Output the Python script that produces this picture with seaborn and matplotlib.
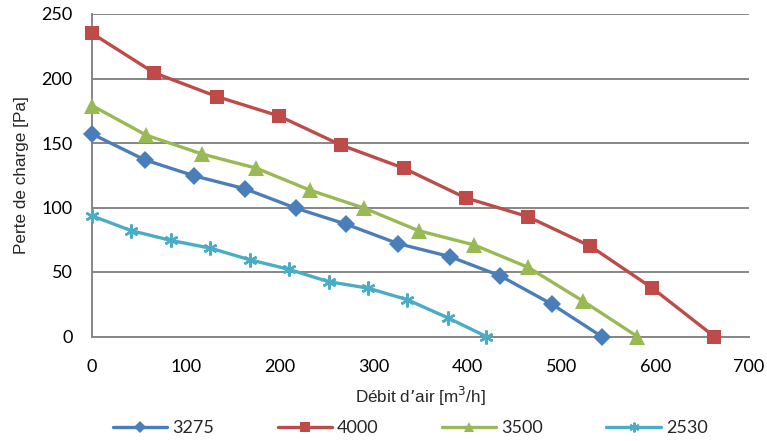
import matplotlib
matplotlib.use("Agg")
import matplotlib.pyplot as plt
import seaborn as sns
import pandas as pd
from matplotlib.lines import Line2D

# Data
x_3275 = [0, 56, 109, 163, 217, 271, 326, 381, 435, 490, 543]
y_3275 = [157, 137, 124.5, 114.5, 99.5, 87, 72, 62, 47, 25, 0]
x_4000 = [0, 66, 133, 199, 265, 332, 398, 464, 531, 597, 663]
y_4000 = [235, 204.5, 186, 171, 148.5, 130.5, 107.5, 93, 70, 37.5, 0]
x_3500 = [0, 58, 117, 175, 232, 290, 348, 407, 465, 523, 581]
y_3500 = [179, 156, 141.5, 130.5, 113.5, 99.5, 82, 71, 53.5, 27.5, 0]
x_2530 = [0, 42, 84, 126, 168, 210, 252, 294, 336, 379, 420]
y_2530 = [93.5, 82, 74.5, 68.5, 59.5, 52, 42.5, 37.5, 28.5, 14.5, 0]
series_names = ["3275", "4000", "3500", "2530"]
x_ticks = [0, 100, 200, 300, 400, 500, 600, 700]
y_ticks = [0, 50, 100, 150, 200, 250]

sns.set_theme(style="white")
tick_font = ["Lato", "DejaVu Sans"]
label_font = ["Liberation Sans", "DejaVu Sans"]

fig = plt.figure(figsize=(7.67, 4.41), dpi=100)
ax = fig.add_axes([0.12, 1 - 336.5 / 441, (749 - 92) / 767, (336.5 - 14) / 441])

styles = [
    (x_3275, y_3275, "#4A7EBB", "D", 9),
    (x_4000, y_4000, "#BE4B48", "s", 9.5),
    (x_3500, y_3500, "#98B954", "^", 11),
    (x_2530, y_2530, "#4BACC6", (6, 2, 0), 10),
]
handles = []
for name, (xs, ys, col, mk, ms) in zip(series_names, styles):
    df = pd.DataFrame({"x": xs, "y": ys})
    kw = dict(marker=mk, markersize=ms, markeredgewidth=0 if mk != (6, 2, 0) else 1.8,
              markeredgecolor=col, markerfacecolor=col)
    sns.lineplot(data=df, x="x", y="y", ax=ax, color=col, linewidth=2.4,
                 sort=False, estimator=None, clip_on=False, zorder=3, **kw)
    handles.append(Line2D([0], [0], color=col, linewidth=2.4, marker=mk,
                          markersize=ms * 0.7, markerfacecolor=col, markeredgecolor=col,
                          markeredgewidth=0 if mk != (6, 2, 0) else 1.5))

ax.set_xlim(0, 700)
ax.set_ylim(0, 250)
ax.set_xticks(x_ticks)
ax.set_yticks(y_ticks)
ax.yaxis.grid(True, color="#868686", linewidth=1.4)
ax.xaxis.grid(False)
for s in ["top", "right"]:
    ax.spines[s].set_visible(False)
for s in ["left", "bottom"]:
    ax.spines[s].set_color("#868686")
    ax.spines[s].set_linewidth(1.4)
ax.tick_params(axis="both", length=0, labelsize=13, labelcolor="black")
ax.tick_params(axis="x", pad=16)
ax.tick_params(axis="y", pad=14)
for lab in ax.get_xticklabels() + ax.get_yticklabels():
    lab.set_family(tick_font)

ax.set_xlabel("Débit d’air [m$^3$/h]", fontsize=12.3, family=label_font, labelpad=7)
ax.set_ylabel("Perte de charge [Pa]", fontsize=12.3, family=label_font, labelpad=9)

leg = fig.legend(handles, series_names, loc="center", bbox_to_anchor=(0.535, 1 - 428 / 441),
                 ncol=4, frameon=False, handlelength=3.0, columnspacing=3.5,
                 handletextpad=0.3, prop={"family": tick_font, "size": 13})

fig.savefig("out.png", dpi=100)
